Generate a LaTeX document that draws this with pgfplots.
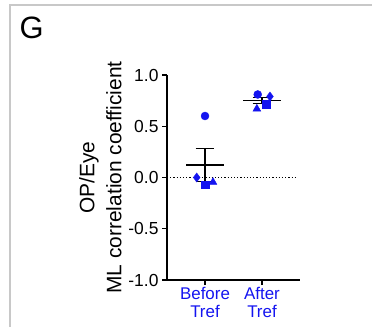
\documentclass[border=0pt]{standalone}
\usepackage{pgfplots}
\pgfplotsset{compat=1.18}
\usepackage{fontspec}
\setmainfont{Liberation Sans}
\definecolor{ptblue}{RGB}{20,20,240}
\definecolor{framegray}{RGB}{200,200,200}
\begin{document}
\begin{tikzpicture}[x=1bp,y=1bp]
\useasboundingbox (0,0) rectangle (372,327);
\draw[framegray, line width=1.5bp] (10,-5) -- (10,322) -- (380,322);
\node[anchor=base west, font=\fontsize{31}{33}\selectfont] at (16,289) {G};
\begin{axis}[
  at={(167bp,47bp)}, anchor=south west,
  scale only axis, width=133bp, height=205bp,
  xmin=-0.667, xmax=1.667, ymin=-1, ymax=1,
  axis lines=left, axis line style={-, line width=1.3bp},
  xtick={0,1}, xticklabels={Before\\Tref, After\\Tref},
  xticklabel style={align=center, text=ptblue, font=\fontsize{17}{17.5}\selectfont, yshift=1bp},
  ytick={-1,-0.5,0,0.5,1}, yticklabels={-1.0,-0.5,0.0,0.5,1.0},
  yticklabel style={font=\fontsize{17.5}{17}\selectfont},
  tick style={black, line width=1.3bp},
  major tick length=5bp, tick align=outside,
  ylabel={OP/Eye\\ML correlation coefficient},
  ylabel style={align=center, font=\fontsize{21}{27}\selectfont},
  clip=false,
]
\addplot[black, dotted, line width=1.2bp] coordinates {(-0.667,0) (1.63,0)};
% Before Tref
\addplot[only marks, mark=*, mark size=4bp, ptblue] coordinates {(0,0.60)};
\addplot[only marks, mark=diamond*, mark size=4.5bp, ptblue] coordinates {(-0.146,0.0)};
\addplot[only marks, mark=square*, mark size=3.8bp, ptblue] coordinates {(0,-0.07)};
\addplot[only marks, mark=triangle*, mark size=4.5bp, ptblue] coordinates {(0.14,-0.045)};
% After Tref
\addplot[only marks, mark=*, mark size=4bp, ptblue] coordinates {(0.925,0.81)};
\addplot[only marks, mark=diamond*, mark size=4.5bp, ptblue] coordinates {(1.14,0.79)};
\addplot[only marks, mark=square*, mark size=3.8bp, ptblue] coordinates {(1.07,0.715)};
\addplot[only marks, mark=triangle*, mark size=4.5bp, ptblue] coordinates {(0.91,0.67)};
% means and SEM
\addplot[black, line width=1.4bp] coordinates {(-0.325,0.12) (0.325,0.12)};
\addplot[black, line width=1.4bp] coordinates {(0,-0.04) (0,0.28)};
\addplot[black, line width=1.4bp] coordinates {(-0.163,0.28) (0.163,0.28)};
\addplot[black, line width=1.4bp] coordinates {(-0.163,-0.04) (0.163,-0.04)};
\addplot[black, line width=1.4bp] coordinates {(0.675,0.75) (1.325,0.75)};
\addplot[black, line width=1.4bp] coordinates {(1,0.72) (1,0.78)};
\addplot[black, line width=1.4bp] coordinates {(0.837,0.78) (1.163,0.78)};
\addplot[black, line width=1.4bp] coordinates {(0.837,0.72) (1.163,0.72)};
\end{axis}
\end{tikzpicture}
\end{document}
